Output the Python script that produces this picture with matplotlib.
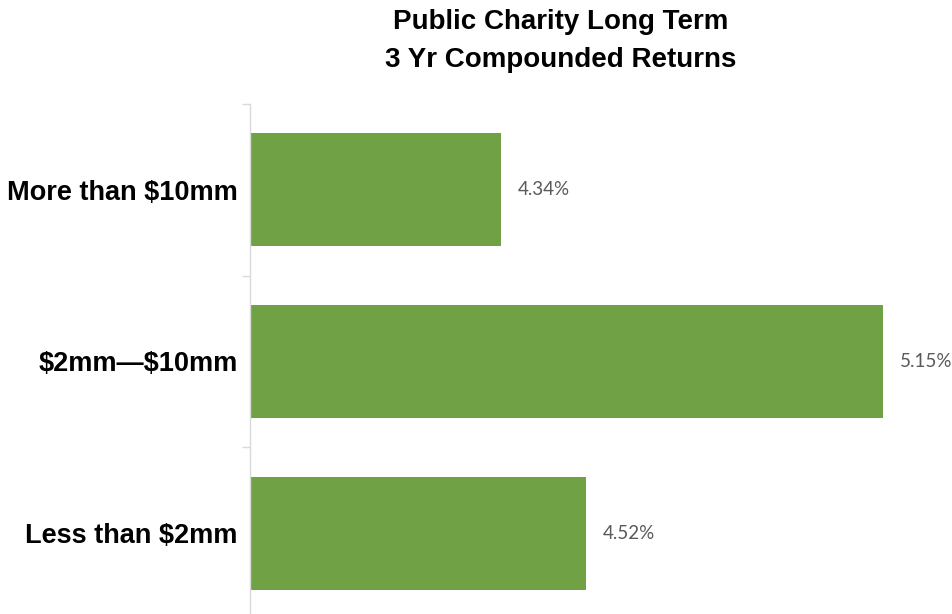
import matplotlib.pyplot as plt

categories = ["Less than \\$2mm", "\\$2mm\u2014\\$10mm", "More than \\$10mm"]
returns = [4.52, 5.15, 4.34]
value_labels = ["4.52%", "5.15%", "4.34%"]

W, H = 953, 614
fig = plt.figure(figsize=(W / 100, H / 100), dpi=100)
ax = fig.add_axes([250 / W, (H - 619) / H, 700 / W, 515 / H])

ypos = list(range(len(categories)))
ax.barh(ypos, returns, height=0.66, color="#70a245", left=0)
ax.set_xlim(3.808, 5.292)
ax.set_ylim(-0.5, 2.5)

for y, v, lab in zip(ypos, returns, value_labels):
    ax.annotate(lab, (v, y), xytext=(12, 0), textcoords="offset points",
                va="center", ha="left", fontsize=13.5, color="#595959",
                family="Lato")

ax.set_yticks(ypos)
ax.set_yticklabels(categories, fontsize=19.5, fontweight="bold",
                   family="Liberation Sans")
ax.tick_params(axis="y", which="major", length=0, pad=9)
ax.set_yticks([-0.5, 0.5, 1.5, 2.5], minor=True)
ax.tick_params(axis="y", which="minor", length=6, color="#d9d9d9", width=1)
ax.set_xticks([])

for s in ["top", "right", "bottom"]:
    ax.spines[s].set_visible(False)
ax.spines["left"].set_color("#d9d9d9")
ax.spines["left"].set_linewidth(1)

fig.text(561 / W, 1 - 41 / H, "Public Charity Long Term\n3 Yr Compounded Returns",
         ha="center", va="center", fontsize=20, fontweight="bold",
         family="Liberation Sans", linespacing=1.58)

fig.savefig("out.png", dpi=100)
